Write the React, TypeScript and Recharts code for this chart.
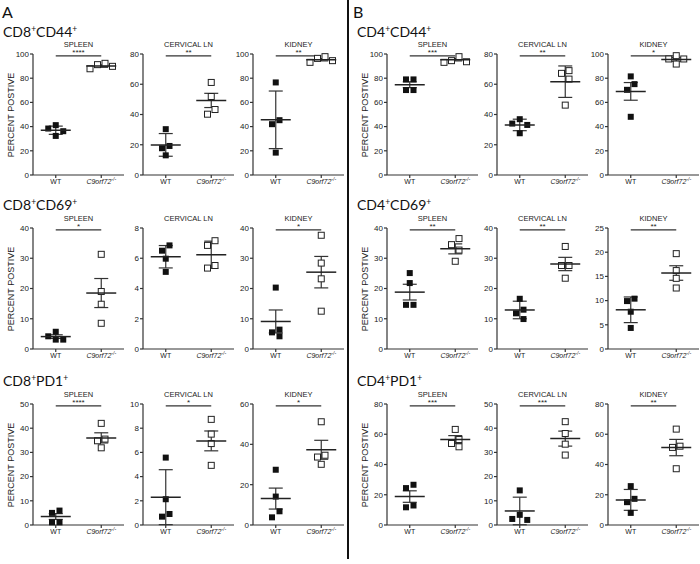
import React from "react";
import { ScatterChart, Scatter, XAxis, YAxis, ErrorBar, ReferenceLine } from "recharts";

const sideLetters = ["A", "B"];
const populations = [
  ["CD8", "CD44"], ["CD8", "CD69"], ["CD8", "PD1"],
  ["CD4", "CD44"], ["CD4", "CD69"], ["CD4", "PD1"],
];
const tissues = ["SPLEEN", "CERVICAL LN", "KIDNEY"];
const groups = ["WT", "C9orf72"];
const koSuperscript = "-/-";
const yLabel = "PERCENT POSTIVE";

// one entry per panel: side A rows, then side B rows; spleen / cervical LN / kidney
const wtValues = [
  [41.2, 38.4, 36.2, 32.3], [30.3, 19.2, 17.7, 13.0], [76.5, 45.3, 42.0, 18.5],
  [5.7, 4.2, 3.1, 3.1], [6.85, 6.5, 5.97, 5.1], [20.3, 6.4, 5.5, 4.2],
  [5.96, 5.0, 1.1, 1.1], [5.57, 2.13, 0.91, 0.69], [27.4, 14.1, 6.8, 3.8],
  [79.0, 79.0, 70.2, 70.2], [36.9, 34.0, 33.1, 27.6], [81.5, 75.1, 70.4, 48.1],
  [25.1, 21.8, 14.6, 14.6], [16.6, 13.0, 11.8, 9.9], [10.4, 9.9, 7.7, 4.35],
  [26.6, 24.4, 12.9, 11.7], [14.3, 4.2, 2.5, 2.1], [25.7, 17.3, 15.1, 8.0],
];
const koValues = [
  [92.3, 91.2, 89.8, 87.8], [61.2, 51.9, 43.3, 40.2], [97.8, 96.4, 94.5, 93.1],
  [31.3, 19.0, 14.8, 8.5], [7.16, 6.85, 5.52, 5.35], [37.6, 28.4, 23.2, 12.5],
  [42.0, 35.5, 34.8, 31.9], [8.73, 7.51, 6.73, 4.93], [51.2, 34.6, 33.7, 30.1],
  [97.8, 94.5, 93.6, 93.1], [69.0, 67.2, 63.4, 46.2], [98.6, 95.9, 95.9, 91.7],
  [36.5, 34.5, 32.7, 29.0], [33.9, 27.6, 27.6, 23.4], [19.7, 16.2, 14.6, 12.6],
  [63.2, 56.5, 53.9, 51.7], [42.7, 37.8, 33.4, 28.9], [63.4, 52.1, 51.3, 37.2],
];
const wtMean = [37, 19.9, 45.6, 4.1, 6.1, 9.1, 3.5, 2.3, 13.1, 74.6, 33.1, 69.1, 18.8, 12.9, 8.1, 18.8, 5.8, 16.6];
const wtErr = [3.4, 7.5, 23.8, 0.6, 0.74, 3.8, 1.2, 2.27, 5.2, 2.4, 3.8, 7.3, 2.6, 2.9, 2.65, 3.8, 5.7, 6.9];
const koMean = [90, 49.3, 95.3, 18.5, 6.23, 25.4, 36, 6.95, 37.3, 95.3, 61.7, 95.5, 33.1, 28.1, 15.7, 56.5, 35.7, 51.2];
const koErr = [1.0, 4.7, 1.0, 4.8, 0.9, 5.2, 2.1, 0.82, 4.7, 1.0, 10.4, 1.5, 1.65, 2.2, 1.5, 2.6, 3.1, 5.4];
const yTicks = [
  [0, 20, 40, 60, 80, 100], [0, 20, 40, 60, 80], [0, 20, 40, 60, 80, 100],
  [0, 10, 20, 30, 40], [0, 2, 4, 6, 8], [0, 10, 20, 30, 40],
  [0, 10, 20, 30, 40, 50], [0, 2, 4, 6, 8, 10], [0, 20, 40, 60],
  [0, 20, 40, 60, 80, 100], [0, 20, 40, 60, 80], [0, 20, 40, 60, 80, 100],
  [0, 10, 20, 30, 40], [0, 10, 20, 30, 40], [0, 5, 10, 15, 20, 25],
  [0, 20, 40, 60, 80], [0, 10, 20, 30, 40, 50], [0, 20, 40, 60, 80],
];
const stars = [
  "****", "**", "**", "*", "", "*", "****", "*", "*",
  "***", "**", "*", "**", "**", "**", "***", "***", "**",
];

const FONT = "'Liberation Sans', Arial, sans-serif";
const TITLE_FONT = "Lato, 'Open Sans', sans-serif";
const PLOT_W = 91;
const PLOT_H = 121;
const Y_W = 30;
const MT = 20;
const MR = 4;
const XH = 16;
const MB = 4;
const CHART_W = Y_W + PLOT_W + MR;
const CHART_H = MT + PLOT_H + XH + MB;
const colX = [33, 143, 253, 387, 497, 608];
const rowTop = [54, 228, 404];
const titleBase = [37, 210, 386];

// horizontal spread of overlapping points, like a scatter dot plot
function swarm(values: number[], max: number, center: number) {
  const pxPerUnit = PLOT_H / max;
  const step = 7.5;
  const size = 6.5;
  const order = values.map((_, i) => i).sort((a, b) => values[b] - values[a]);
  const offs: number[] = values.map(() => 0);
  const placed: number[] = [];
  for (const i of order) {
    const y = values[i] * pxPerUnit;
    for (const c of [0, -1, 1, -2, 2, -3, 3]) {
      const o = c * step;
      const ok = placed.every(
        (j) => Math.abs(values[j] * pxPerUnit - y) >= size || Math.abs(offs[j] - o) >= size
      );
      if (ok) {
        offs[i] = o;
        placed.push(i);
        break;
      }
    }
  }
  // centre each cluster of points that share a row
  const parent = values.map((_, i) => i);
  const find = (i: number): number => (parent[i] === i ? i : (parent[i] = find(parent[i])));
  for (let a = 0; a < values.length; a++)
    for (let b = a + 1; b < values.length; b++)
      if (Math.abs(values[a] - values[b]) * pxPerUnit < size) parent[find(a)] = find(b);
  const shift: Record<number, number> = {};
  const roots = Array.from(new Set(values.map((_, i) => find(i))));
  for (const r of roots) {
    const members = values.map((_, i) => i).filter((i) => find(i) === r);
    const lo = Math.min(...members.map((i) => offs[i]));
    const hi = Math.max(...members.map((i) => offs[i]));
    shift[r] = -(lo + hi) / 2;
  }
  const unitsPerPx = 2 / PLOT_W;
  return values.map((v, i) => ({ x: center + (offs[i] + shift[find(i)]) * unitsPerPx, y: v }));
}

const WtSquare = (p: any) => <rect x={p.cx - 3} y={p.cy - 3} width={6} height={6} fill="#111" />;
const KoSquare = (p: any) => (
  <rect x={p.cx - 3} y={p.cy - 3} width={6} height={6} fill="#fff" stroke="#222" strokeWidth={1} />
);
const MeanLine = (p: any) => (
  <line x1={p.cx - 15} x2={p.cx + 15} y1={p.cy} y2={p.cy} stroke="#222" strokeWidth={1.5} />
);

function GroupTick({ x, y, payload }: any) {
  if (payload.value === 1) {
    return (
      <text x={x} y={y} dy={3.5} textAnchor="middle" fontSize={7} fill="#222" fontFamily={FONT}>
        {groups[0]}
      </text>
    );
  }
  return (
    <text x={x} y={y} dy={3.5} textAnchor="middle" fontSize={7} fill="#222" fontFamily={FONT} fontStyle="italic">
      {groups[1]}
      <tspan dy={-3} fontSize={5}>{koSuperscript}</tspan>
    </text>
  );
}

function Panel({ p, left, top }: { p: number; left: number; top: number }) {
  const ticks = yTicks[p];
  const max = ticks[ticks.length - 1];
  const wt = swarm(wtValues[p], max, 1);
  const ko = swarm(koValues[p], max, 2);
  const means = [
    { x: 1, y: wtMean[p], e: wtErr[p] },
    { x: 2, y: koMean[p], e: koErr[p] },
  ];
  const sigY = max * 0.985;
  return (
    <div style={{ position: "absolute", left, top }}>
      <ScatterChart width={CHART_W} height={CHART_H} margin={{ top: MT, right: MR, bottom: MB, left: 0 }}>
        <XAxis
          type="number"
          dataKey="x"
          domain={[0.5, 2.5]}
          ticks={[1, 2]}
          tick={(props: any) => <GroupTick {...props} />}
          tickSize={3}
          height={XH}
          stroke="#333"
          strokeWidth={1.2}
          allowDataOverflow
        />
        <YAxis
          type="number"
          dataKey="y"
          domain={[0, max]}
          ticks={ticks}
          interval={0}
          width={Y_W}
          tickSize={3}
          tickMargin={1}
          tick={{ fontSize: 8, fill: "#222", fontFamily: FONT }}
          stroke="#333"
          strokeWidth={1.2}
        />
        {stars[p] && (
          <ReferenceLine
            segment={[{ x: 1, y: sigY }, { x: 2, y: sigY }]}
            stroke="#333"
            strokeWidth={1.2}
            ifOverflow="visible"
            label={{ value: stars[p], position: "top", fontSize: 8, fill: "#222", offset: 1, fontFamily: FONT }}
          />
        )}
        <Scatter data={wt} shape={WtSquare} isAnimationActive={false} />
        <Scatter data={ko} shape={KoSquare} isAnimationActive={false} />
        <Scatter data={means} shape={MeanLine} isAnimationActive={false}>
          <ErrorBar dataKey="e" direction="y" width={7} stroke="#333" strokeWidth={1.2} />
        </Scatter>
      </ScatterChart>
    </div>
  );
}

export default function App() {
  const panels = [];
  for (let side = 0; side < 2; side++)
    for (let row = 0; row < 3; row++)
      for (let col = 0; col < 3; col++) {
        const p = side * 9 + row * 3 + col;
        panels.push(<Panel key={p} p={p} left={colX[side * 3 + col] - Y_W} top={rowTop[row] - MT} />);
      }
  return (
    <div style={{ position: "absolute", left: 0, top: 0, width: 700, height: 564, background: "#fff" }}>
      <svg width={700} height={564} style={{ position: "absolute", left: 0, top: 0 }}>
        <rect x={347} y={0} width={2} height={559} fill="#111" />
        {sideLetters.map((s, side) => (
          <text key={s} x={side === 0 ? 2 : 353} y={18} fontSize={16} fontFamily={TITLE_FONT} fill="#111">
            {s}
          </text>
        ))}
        {populations.map(([a, b], i) => {
          const side = Math.floor(i / 3);
          const row = i % 3;
          return (
            <text key={i} x={side === 0 ? 3 : 357} y={titleBase[row]} fontSize={14} fontFamily={TITLE_FONT} fill="#111">
              {a}
              <tspan dy={-5} fontSize={8.5}>+</tspan>
              <tspan dy={5}>{b}</tspan>
              <tspan dy={-5} fontSize={8.5}>+</tspan>
            </text>
          );
        })}
        {[0, 1].map((side) =>
          [0, 1, 2].map((row) => (
            <g key={`${side}-${row}`}>
              <text
                transform={`translate(${side === 0 ? 11 : 365}, ${rowTop[row] + 61}) rotate(-90)`}
                textAnchor="middle"
                dominantBaseline="central"
                fontSize={9}
                fontFamily={FONT}
                fill="#222"
              >
                {yLabel}
              </text>
              {tissues.map((t, col) => (
                <text
                  key={t}
                  x={colX[side * 3 + col] + PLOT_W / 2}
                  y={rowTop[row] - 7}
                  textAnchor="middle"
                  fontSize={7.5}
                  fontFamily={FONT}
                  fill="#222"
                >
                  {t}
                </text>
              ))}
            </g>
          ))
        )}
      </svg>
      {panels}
    </div>
  );
}
